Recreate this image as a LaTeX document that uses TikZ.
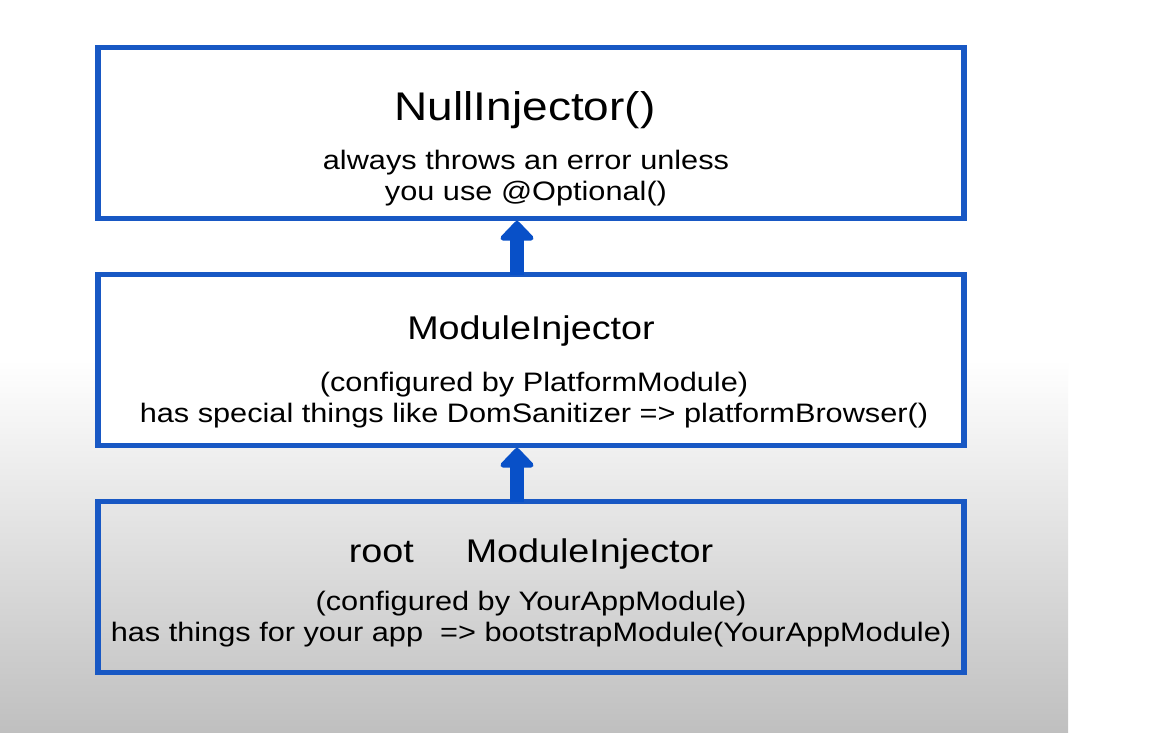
\documentclass[tikz,border=0pt]{standalone}
\usepackage{fontspec}
\setmainfont{Liberation Sans}[FakeStretch=1.15]
\usetikzlibrary{arrows.meta,positioning}
\definecolor{injblue}{RGB}{24,88,196}
\definecolor{arrowblue}{RGB}{8,80,200}

\begin{document}
\begin{tikzpicture}[
  node distance=28pt,
  injbox/.style={rectangle, draw=injblue, line width=2.75pt, outer sep=0pt,
                 minimum width=433pt, minimum height=85.5pt, inner sep=0pt},
  headtext/.style={anchor=base, font=\fontsize{16.4}{19}\selectfont},
  notetext/.style={anchor=base, align=center,
                   font=\fontsize{13.35}{15.5}\selectfont},
  uparr/.style={arrowblue, line width=7.2pt,
                -{Triangle[length=10.5pt, width=19.4pt, round]}}]
% page and background
\useasboundingbox (0,0) rectangle (576pt,-366.5pt);
\fill[white] (0,0) rectangle (576pt,-366.5pt);
\shade[top color=white, bottom color=gray!50]
  (0,-180pt) rectangle (534pt,-366.5pt);
% injector boxes
\node[injbox, fill=white] (nullbox) at (265.5pt,-66.5pt) {};
\node[injbox, fill=white, below=of nullbox] (modbox) {};
\node[injbox, below=of modbox] (rootbox) {};
% texts (notes are placed by their last line)
\node[headtext, font=\fontsize{20}{24}\selectfont] (nullhead)
  at ([xshift=-3pt, yshift=-36.75pt]nullbox.north) {NullInjector()};
\node[notetext] (nullnote) at ([xshift=-2.5pt, yshift=-76.5pt]nullbox.north)
  {always throws an error unless\\ you use @Optional()};
\node[headtext] (modhead) at ([yshift=-32.5pt]modbox.north) {ModuleInjector};
\node[notetext] (modnote) at ([xshift=1.5pt, yshift=-74pt]modbox.north)
  {(configured by PlatformModule)\\
   has special things like DomSanitizer => platformBrowser()};
\node[headtext] (roothead) at ([yshift=-30.5pt]rootbox.north)
  {root\hspace{26pt}ModuleInjector};
\node[notetext] (rootnote) at ([yshift=-69.75pt]rootbox.north)
  {(configured by YourAppModule)\\
   has things for your app\ \ => bootstrapModule(YourAppModule)};
% arrows
\draw[uparr] ([xshift=-7pt]modbox.north) -- ([xshift=-7pt, yshift=-1.2pt]nullbox.south);
\draw[uparr] ([xshift=-7pt]rootbox.north) -- ([xshift=-7pt, yshift=-1.2pt]modbox.south);
\end{tikzpicture}
\end{document}
